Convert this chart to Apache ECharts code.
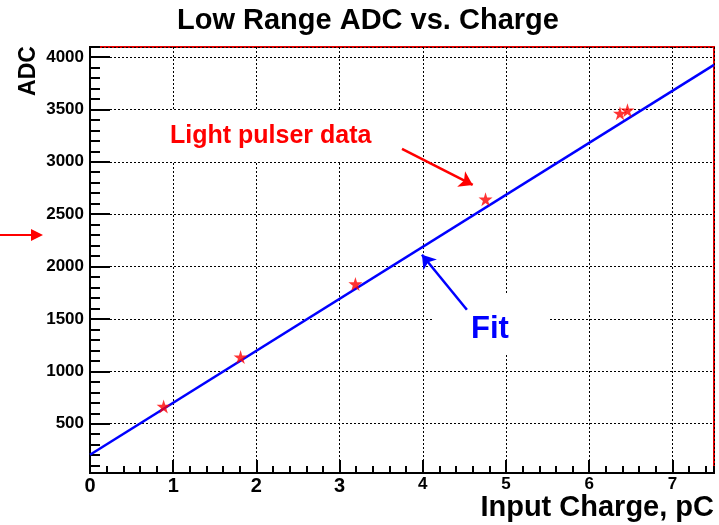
<!DOCTYPE html>
<html>
<head>
<meta charset="utf-8">
<title>Low Range ADC vs. Charge</title>
<script src="https://cdn.jsdelivr.net/npm/echarts@6/dist/echarts.min.js"></script>
<style>
  html, body { margin: 0; padding: 0; background: #fff; }
  #chart { width: 719px; height: 525px; }
</style>
</head>
<body>
<div id="chart"></div>
<script>
// light pulser points
const chargePC = [0.885, 1.81, 3.19, 4.754, 6.37, 6.46];
const adcCounts = [665, 1136, 1834, 2643, 3462, 3492];
// straight line fit, ends at the axis limits
const fitCharge = [0, 7.5];
const fitAdc = [204, 3924];
// axis ranges
const xRange = [0, 7.5];
const yRange = [30, 4095];
// annotation arrows, data coords [from, to]
const pulserArrow = [[3.75, 3123], [4.60, 2779]];
const fitArrow = [[4.53, 1587], [3.99, 2112]];

const font = 'Liberation Sans, Arial, sans-serif';
const star = 'path://M50,0 L61,35 L98,35 L68,57 L79,91 L50,70 L21,91 L32,57 L2,35 L39,35 Z';

const chart = echarts.init(document.getElementById('chart'));

const arrowItem = (pts, color) => [
  {coord: pts[0], lineStyle: {color: color, width: 2.5, type: 'solid'}, itemStyle: {color: color}},
  {coord: pts[1]}
];

// 2px ticks: the 1.5px ones did not show up at all
const option = {
  backgroundColor: '#fff',
  animation: false,
  title: {
    text: 'Low Range ADC vs. Charge',
    left: 177,
    top: 6,
    padding: 0,
    textStyle: {fontFamily: font, fontSize: 29, fontWeight: 'bold', color: '#000'}
  },
  grid: {
    left: 90, right: 5, top: 47, bottom: 52,
    show: true, borderColor: '#e00000', borderWidth: 2
  },
  xAxis: [
    {
      type: 'value', min: xRange[0], max: xRange[1], interval: 1,
      axisLine: {show: true, onZero: false, lineStyle: {color: '#000', width: 2}},
      axisTick: {show: true, inside: true, length: 13, lineStyle: {color: '#000', width: 2}},
      splitLine: {show: true, lineStyle: {color: '#000', type: [2, 2], width: 1}},
      axisLabel: {
        margin: 3, showMaxLabel: false,
        formatter: v => (v <= 3 ? '{big|' + v + '}' : '{small|' + v + '}'),
        rich: {
          big: {fontFamily: font, fontSize: 20, fontWeight: 'bold', color: '#000'},
          small: {fontFamily: font, fontSize: 17, fontWeight: 'bold', color: '#000'}
        }
      }
    },
    {
      // minor ticks
      type: 'value', min: xRange[0], max: xRange[1], interval: 0.2, position: 'bottom',
      axisLine: {show: true, onZero: false, lineStyle: {color: '#000', width: 2}},
      axisTick: {show: true, inside: true, length: 7, lineStyle: {color: '#000', width: 2}},
      axisLabel: {show: false},
      splitLine: {show: false}
    }
  ],
  yAxis: [
    {
      type: 'value', min: yRange[0], max: yRange[1], splitNumber: 8,
      axisLine: {show: true, onZero: false, lineStyle: {color: '#000', width: 2}},
      axisTick: {show: true, inside: true, length: 20, lineStyle: {color: '#000', width: 2}},
      splitLine: {show: true, lineStyle: {color: '#000', type: [2, 2], width: 1}},
      axisLabel: {
        margin: 6, showMinLabel: false, showMaxLabel: false,
        formatter: v => String(v),
        fontFamily: font, fontSize: 17, fontWeight: 'bold', color: '#000'
      }
    },
    {
      // minor ticks, every 100
      type: 'value', min: yRange[0], max: yRange[1], splitNumber: 40, position: 'left',
      axisLine: {show: true, onZero: false, lineStyle: {color: '#000', width: 2}},
      axisTick: {show: true, inside: true, length: 10, lineStyle: {color: '#000', width: 2}},
      axisLabel: {show: false},
      splitLine: {show: false}
    }
  ],
  series: [
    {
      name: 'Fit',
      type: 'line',
      xAxisIndex: 0, yAxisIndex: 0,
      data: fitCharge.map((x, i) => [x, fitAdc[i]]),
      showSymbol: false,
      silent: true,
      lineStyle: {color: '#0000ff', width: 2.5},
      markLine: {
        silent: true,
        symbol: ['none', 'arrow'],
        symbolSize: 13,
        label: {show: false},
        emphasis: {disabled: true},
        lineStyle: {type: 'solid'},
        data: [
          arrowItem(pulserArrow, '#ff0000'),
          arrowItem(fitArrow, '#0000ff')
        ]
      },
      z: 3
    },
    {
      name: 'Light pulser data',
      type: 'scatter',
      xAxisIndex: 0, yAxisIndex: 0,
      data: chargePC.map((x, i) => [x, adcCounts[i]]),
      symbol: star,
      symbolSize: 14,
      itemStyle: {color: '#ff0000'},
      silent: true,
      z: 4
    }
  ],
  graphic: [
    {
      type: 'text', x: 152, y: 111, z: 2,
      style: {
        text: 'Light pulser data', fill: '#ff0000',
        font: 'bold 25px ' + font, lineHeight: 31,
        backgroundColor: '#fff', padding: [10, 19, 10, 18]
      }
    },
    {
      type: 'text', x: 433, y: 295, z: 2,
      style: {
        text: 'Fit', fill: '#0000ff',
        font: 'bold 31px ' + font, lineHeight: 36,
        backgroundColor: '#fff', padding: [16, 40, 6, 38]
      }
    },
    {
      type: 'text', x: 29, y: 71, rotation: Math.PI / 2,
      style: {
        text: 'ADC', fill: '#000', font: 'bold 23px ' + font,
        align: 'center', verticalAlign: 'middle'
      }
    },
    {
      type: 'text', x: 714, y: 508,
      style: {
        text: 'Input Charge, pC', fill: '#000', font: 'bold 29px ' + font,
        align: 'right', verticalAlign: 'middle'
      }
    },
    // red arrow sticking in from the left margin
    {
      type: 'line', shape: {x1: 0, y1: 235, x2: 33, y2: 235},
      style: {stroke: '#ff0000', lineWidth: 2}
    },
    {
      type: 'polygon', shape: {points: [[31, 229], [43, 235], [31, 241]]},
      style: {fill: '#ff0000'}
    }
  ]
};

chart.setOption(option);
</script>
</body>
</html>
